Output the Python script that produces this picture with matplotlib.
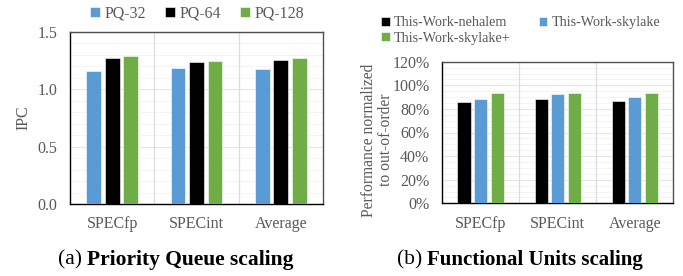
import matplotlib.pyplot as plt
import matplotlib as mpl
import numpy as np
from matplotlib.ticker import MultipleLocator, PercentFormatter

mpl.rcParams["font.family"] = ["Liberation Serif", "DejaVu Serif"]
mpl.rcParams.update({"font.size": 11})

categories = ["SPECfp", "SPECint", "Average"]

# (a) priority queue scaling, IPC
pq_labels = ["PQ-32", "PQ-64", "PQ-128"]
pq_32 = [1.16, 1.19, 1.175]
pq_64 = [1.27, 1.24, 1.255]
pq_128 = [1.29, 1.25, 1.275]

# (b) functional units scaling, % of out-of-order
fu_labels = ["This-Work-nehalem", "This-Work-skylake", "This-Work-skylake+"]
fu_nehalem = [86, 88, 87]
fu_skylake = [88.5, 92.5, 90]
fu_skylake_plus = [93.5, 93.5, 93.5]

BLUE = "#5B9BD5"
BLACK = "#000000"
GREEN = "#70AD47"
GRAY = "#595959"
TICK_FS = 11.5


def style_axes(ax):
    ax.set_xlim(-0.5, len(categories) - 0.5)
    ax.set_xticks(range(len(categories)))
    ax.set_xticklabels(categories, color=GRAY, fontsize=TICK_FS)
    ax.tick_params(axis="both", length=0, colors=GRAY, labelsize=TICK_FS)
    ax.tick_params(axis="x", pad=9)
    ax.tick_params(axis="y", pad=9)
    ax.tick_params(which="minor", length=0)
    ax.grid(axis="y", which="major", color="#e6e6e6", lw=0.8)
    ax.grid(axis="y", which="minor", color="#f2f2f2", lw=0.6)
    for xs in [0.5, 1.5]:
        ax.axvline(xs, color="#dcdcdc", lw=0.9, zorder=1)
    ax.set_axisbelow(True)
    for s in ["left", "bottom"]:
        ax.spines[s].set_color("#000000")
        ax.spines[s].set_linewidth(1.0)
    for s in ["top", "right"]:
        ax.spines[s].set_color("#505050")
        ax.spines[s].set_linewidth(1.0)


fig = plt.figure(figsize=(6.83, 2.76), dpi=100)

x = np.arange(len(categories))

# left panel
ax1 = fig.add_axes([70 / 683, 72 / 276, 253 / 683, 172 / 276])
w, step = 0.175, 0.22
h1 = []
for i, (vals, col) in enumerate(zip([pq_32, pq_64, pq_128], [BLUE, BLACK, GREEN])):
    b = ax1.bar(x + (i - 1) * step, vals, w, color=col, edgecolor="white", lw=0.4, zorder=3)
    h1.append(b)
ax1.set_ylim(0, 1.5)
ax1.yaxis.set_major_locator(MultipleLocator(0.5))
ax1.yaxis.set_minor_locator(MultipleLocator(0.1))
ax1.yaxis.set_major_formatter(mpl.ticker.FormatStrFormatter("%.1f"))
style_axes(ax1)
ax1.set_ylabel("IPC", color=GRAY, fontsize=TICK_FS)
ax1.yaxis.set_label_coords(-0.153, 0.5)

fig.legend(h1, pq_labels, loc="center", bbox_to_anchor=(197 / 683, 1 - 14 / 276), ncol=3,
           frameon=False, handlelength=0.6, handleheight=0.6, handletextpad=0.3,
           columnspacing=1.2, labelcolor=GRAY, fontsize=11.5, borderpad=0)

# right panel
ax2 = fig.add_axes([442 / 683, 72.7 / 276, 231.5 / 683, 141.6 / 276])
w, step = 0.17, 0.215
h2 = []
for i, (vals, col) in enumerate(zip([fu_nehalem, fu_skylake, fu_skylake_plus], [BLACK, BLUE, GREEN])):
    b = ax2.bar(x + (i - 1) * step, vals, w, color=col, edgecolor="white", lw=0.4, zorder=3)
    h2.append(b)
ax2.set_ylim(0, 120)
ax2.yaxis.set_major_locator(MultipleLocator(20))
ax2.yaxis.set_minor_locator(MultipleLocator(5))
ax2.yaxis.set_major_formatter(PercentFormatter(decimals=0))
style_axes(ax2)
ax2.set_ylabel("Performance normalized\nto out-of-order", color=GRAY, fontsize=11.2,
               linespacing=1.1)
ax2.yaxis.set_label_coords(-0.207, 0.447)

# legend is filled column-wise, so order items to read row-wise
order = [0, 2, 1]
fig.legend([h2[i] for i in order], [fu_labels[i] for i in order], loc="upper left",
           bbox_to_anchor=(374 / 683, 1 - 9 / 276), ncol=2,
           frameon=False, handlelength=0.6, handleheight=0.6, handletextpad=0.3,
           columnspacing=2.0, labelcolor=GRAY, fontsize=10.2, borderpad=0, labelspacing=0.2)

# captions
cy = 1 - 260 / 276
fig.text(82 / 683, cy, "(a)", ha="right", va="center", fontsize=15.5)
fig.text(87 / 683, cy, "Priority Queue scaling", ha="left", va="center", fontsize=15.5,
         fontweight="bold")
fig.text(422 / 683, cy, "(b)", ha="right", va="center", fontsize=15.5)
fig.text(427 / 683, cy, "Functional Units scaling", ha="left", va="center", fontsize=15,
         fontweight="bold")

plt.savefig("out.png", dpi=100)
